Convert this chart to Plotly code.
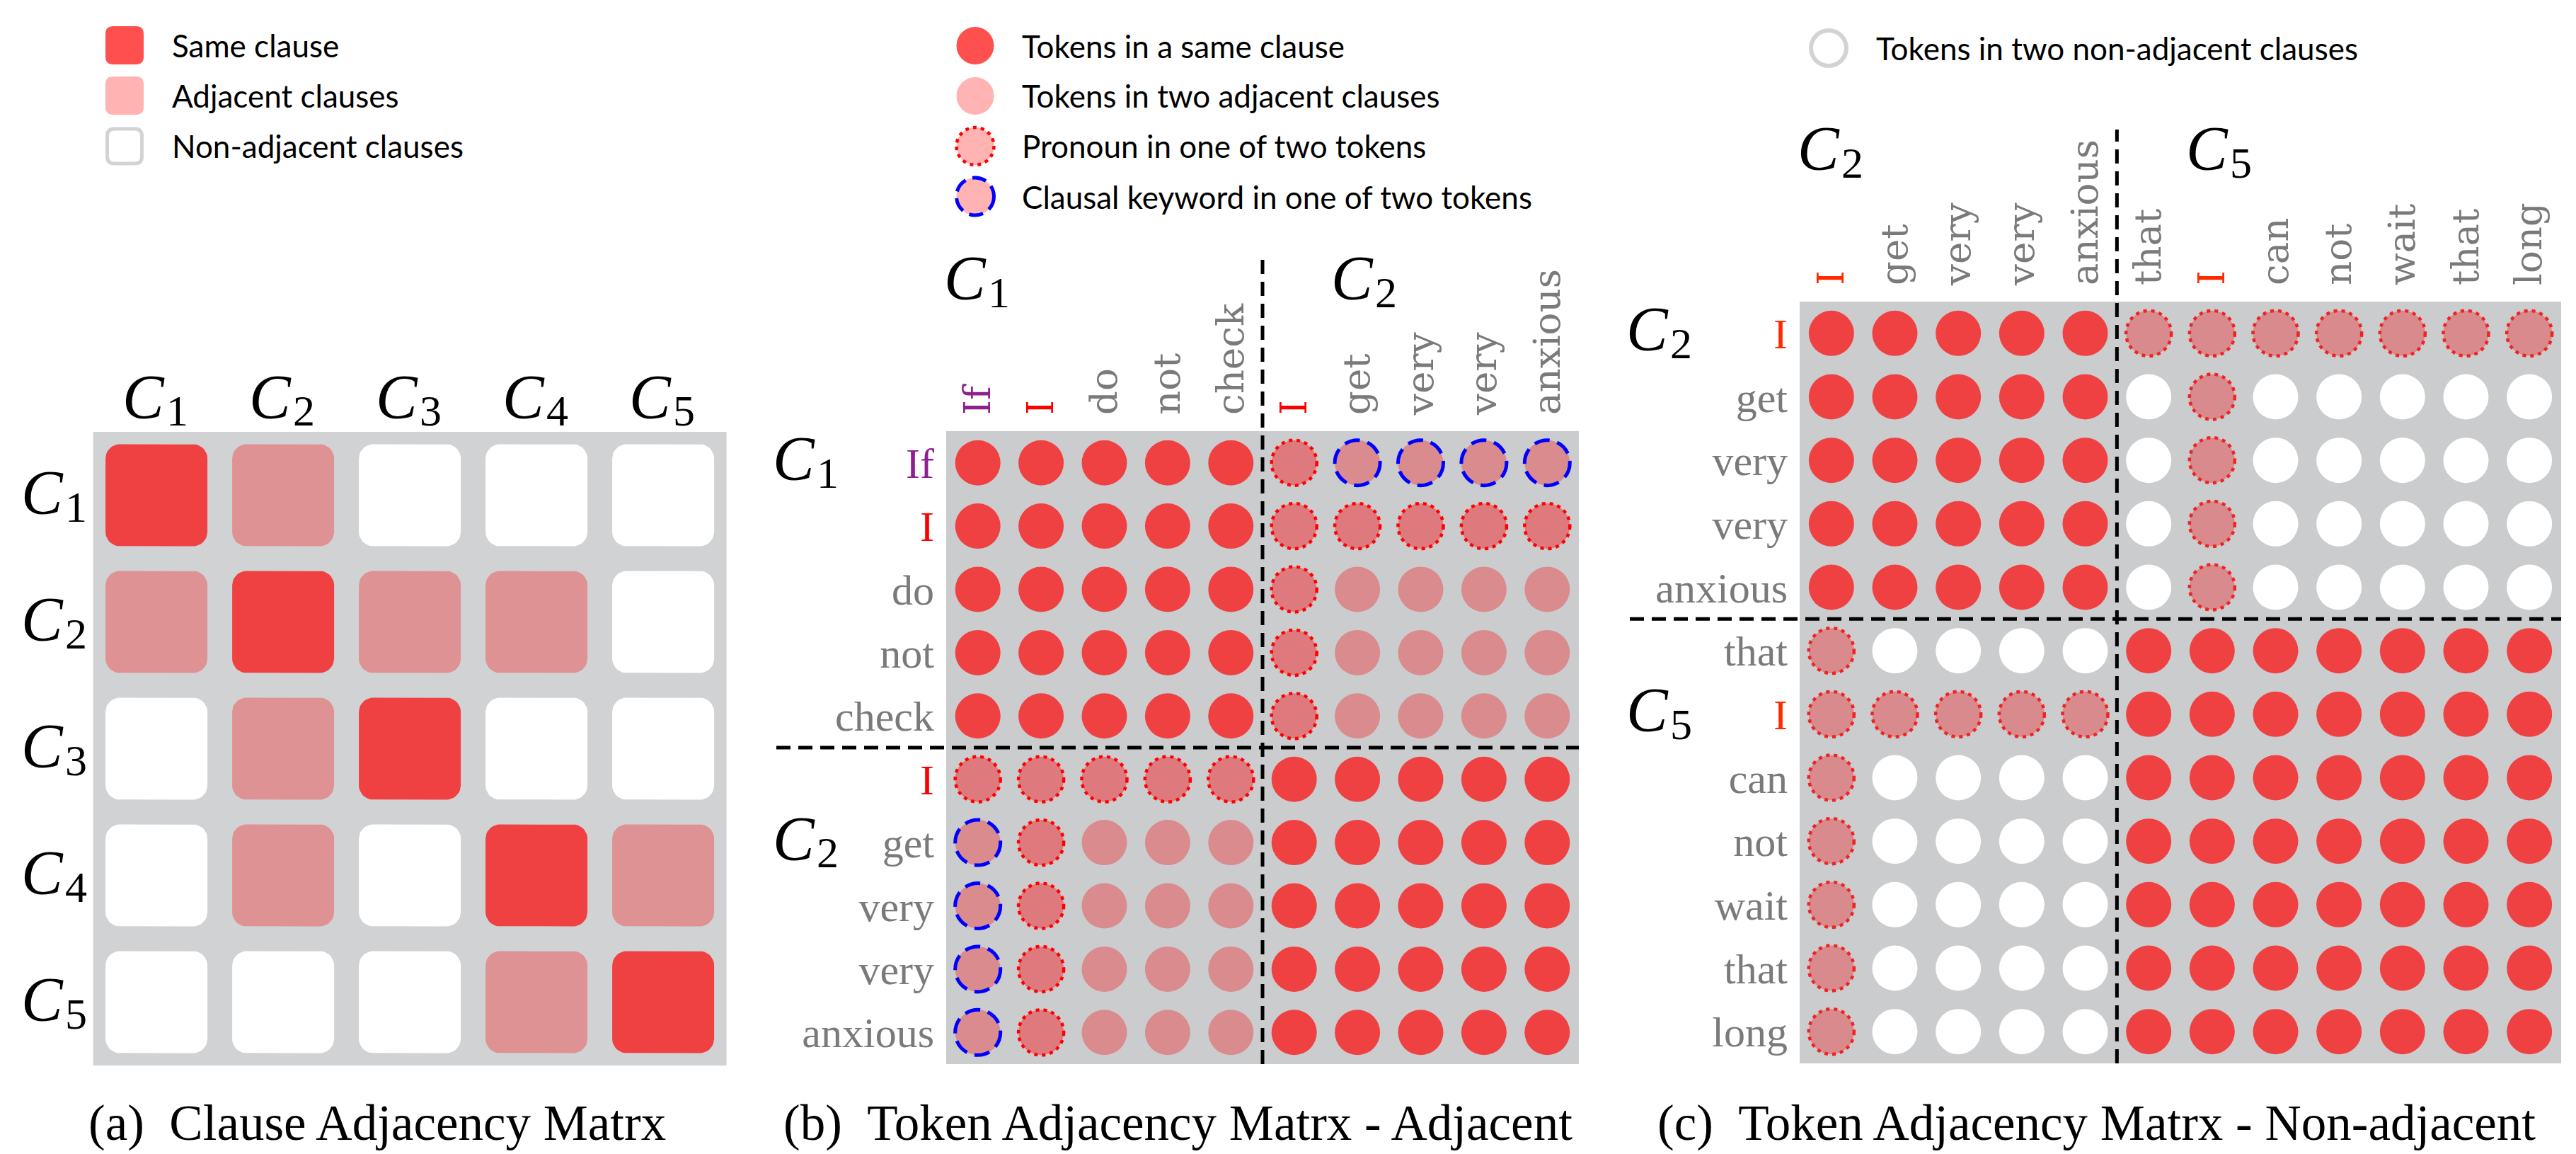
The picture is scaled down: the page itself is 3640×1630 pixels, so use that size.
import numpy as np
import plotly.graph_objects as go

W, H = 3640, 1630

# ---------------- data ----------------
clauses_a = ["C1", "C2", "C3", "C4", "C5"]
# S = same clause, A = adjacent clauses, N = non-adjacent clauses
clause_matrix_a = [
    "SANNN",
    "ASAAN",
    "NASNN",
    "NANSA",
    "NNNAS",
]

tokens_b = ["If", "I", "do", "not", "check", "I", "get", "very", "very", "anxious"]
groups_b = ["C1", "C2"]
# S same, A adjacent, P pronoun in one token, K clausal keyword in one token
token_matrix_b = [
    "SSSSSPKKKK",
    "SSSSSPPPPP",
    "SSSSSPAAAA",
    "SSSSSPAAAA",
    "SSSSSPAAAA",
    "PPPPPSSSSS",
    "KPAAASSSSS",
    "KPAAASSSSS",
    "KPAAASSSSS",
    "KPAAASSSSS",
]

tokens_c = ["I", "get", "very", "very", "anxious", "that", "I", "can", "not", "wait", "that", "long"]
groups_c = ["C2", "C5"]
token_matrix_c = [
    "SSSSSPPPPPPP",
    "SSSSSNPNNNNN",
    "SSSSSNPNNNNN",
    "SSSSSNPNNNNN",
    "SSSSSNPNNNNN",
    "PNNNNSSSSSSS",
    "PPPPPSSSSSSS",
    "PNNNNSSSSSSS",
    "PNNNNSSSSSSS",
    "PNNNNSSSSSSS",
    "PNNNNSSSSSSS",
    "PNNNNSSSSSSS",
]

token_colors = {"If": "#8e1f8e", "I": "#ff0000"}
token_colors_c = {"I": "#ff2a00"}

legend_a = ["Same clause", "Adjacent clauses", "Non-adjacent clauses"]
legend_b = ["Tokens in a same clause", "Tokens in two adjacent clauses",
            "Pronoun in one of two tokens", "Clausal keyword in one of two tokens"]
legend_c = ["Tokens in two non-adjacent clauses"]
captions = ["(a)\u2002Clause Adjacency Matrx",
            "(b)\u2002Token Adjacency Matrx - Adjacent",
            "(c)\u2002Token Adjacency Matrx - Non-adjacent"]

# ---------------- styles ----------------
RED = "#f04142"
GRAY_A = "#d1d2d4"
GRAY_BC = "#cbccce"
TOKEN_GRAY = "#7a7a7a"


def px_x(x):
    return x / W


def px_y(y):
    return 1 - y / H


# panel boxes in pixels (left, top, size)
box_a = (123.6, 602.0, 895.0)
box_b = (1329.0, 601.0, 894.0)
box_c = (2535.0, 418.0, 1076.0)

fig = go.Figure()
shapes = []
annotations = []


def add_math(name, x, y, xref, yref, yshift=0):
    """Clause label C_k centred on (x, y): italic C plus an upright subscript."""
    annotations.append(dict(text=name[0], xref=xref, yref=yref, x=x, y=y, xanchor="right",
                            yanchor="middle", xshift=14, yshift=yshift, showarrow=False,
                            font=dict(family="Liberation Serif", size=88, color="black", style="italic")))
    annotations.append(dict(text=name[1:], xref=xref, yref=yref, x=x, y=y, xanchor="left",
                            yanchor="middle", xshift=12, yshift=yshift - 20, showarrow=False,
                            font=dict(family="Liberation Serif", size=62, color="black")))


def axis_domains(box):
    l, t, s = box
    return [px_x(l), px_x(l + s)], [px_y(t + s), px_y(t)]


# ---------------- panel (a) ----------------
xd, yd = axis_domains(box_a)
pitch_a = box_a[2] / len(clauses_a)
half = 72.0 / pitch_a
rad = 20.0 / pitch_a


def rounded(cx, cy, h, r, n=10):
    xs, ys = [], []
    for ccx, ccy, a0 in [(cx + h - r, cy + h - r, 0), (cx - h + r, cy + h - r, 90),
                         (cx - h + r, cy - h + r, 180), (cx + h - r, cy - h + r, 270)]:
        for t in np.radians(np.linspace(a0, a0 + 90, n)):
            xs.append(ccx + r * np.cos(t))
            ys.append(ccy + r * np.sin(t))
    xs.append(xs[0])
    ys.append(ys[0])
    return xs, ys


cell_colors_a = {"S": RED, "A": "#de9294", "N": "#ffffff"}
for code, col in cell_colors_a.items():
    X, Y = [], []
    for i, row in enumerate(clause_matrix_a):
        for j, c in enumerate(row):
            if c == code:
                xs, ys = rounded(j, i, half, rad)
                X += xs + [None]
                Y += ys + [None]
    fig.add_trace(go.Scatter(x=X, y=Y, mode="lines", fill="toself", fillcolor=col,
                             line=dict(width=0, color=col), hoverinfo="skip",
                             xaxis="x", yaxis="y", showlegend=False))

shapes.append(dict(type="rect", xref="x domain", yref="y domain", x0=0, x1=1, y0=0, y1=1,
                   fillcolor=GRAY_A, line=dict(width=0), layer="below"))

for j, c in enumerate(clauses_a):
    add_math(c, j, px_y(552), "x", "paper")
for i, c in enumerate(clauses_a):
    add_math(c, px_x(70), i, "paper", "y", yshift=4)

layout_axes = {}
layout_axes["xaxis"] = dict(domain=xd, range=[-0.5, 4.5], side="top", anchor="y", showticklabels=False)
layout_axes["yaxis"] = dict(domain=yd, range=[4.5, -0.5], anchor="x", showticklabels=False)


# ---------------- token panels ----------------
def token_panel(idx, box, tokens, groups, matrix, colors, ring_red, tcolors):
    xa, ya = "x%d" % idx, "y%d" % idx
    xd, yd = axis_domains(box)
    n = len(tokens)
    pitch = box[2] / n
    diam = 64.0
    for code, col in colors.items():
        X, Y = [], []
        for i, row in enumerate(matrix):
            for j, c in enumerate(row):
                if c == code:
                    X.append(j)
                    Y.append(i)
        if X:
            fig.add_trace(go.Scatter(x=X, y=Y, mode="markers", xaxis=xa, yaxis=ya,
                                     marker=dict(size=diam, color=col, line=dict(width=0)),
                                     hoverinfo="skip", showlegend=False))
    r = diam / 2 / pitch
    for i, row in enumerate(matrix):
        for j, c in enumerate(row):
            if c in ("P", "K"):
                if c == "P":
                    ln = dict(color=ring_red, width=4.5, dash="5px,6px")
                else:
                    ln = dict(color="#0000ff", width=5, dash="22px,11px")
                shapes.append(dict(type="circle", xref=xa, yref=ya, x0=j - r, x1=j + r,
                                   y0=i - r, y1=i + r, line=ln, layer="above"))
    shapes.append(dict(type="rect", xref=xa + " domain", yref=ya + " domain", x0=0, x1=1, y0=0, y1=1,
                       fillcolor=GRAY_BC, line=dict(width=0), layer="below"))

    def tt(t):
        if t in tcolors:
            return '<span style="color:%s">%s</span>' % (tcolors[t], t)
        return t

    layout_axes["xaxis%d" % idx] = dict(domain=xd, range=[-0.5, n - 0.5], side="top", anchor=ya,
                                        tickvals=list(range(n)), ticktext=[tt(t) for t in tokens],
                                        tickangle=-90, ticklabelstandoff=22,
                                        tickfont=dict(family="DejaVu Serif", size=53, color=TOKEN_GRAY))
    layout_axes["yaxis%d" % idx] = dict(domain=yd, range=[n - 0.5, -0.5], anchor=xa,
                                        tickvals=list(range(n)), ticktext=[tt(t) for t in tokens],
                                        ticklabelstandoff=16,
                                        tickfont=dict(family="Liberation Serif", size=60, color=TOKEN_GRAY))
    # dividers
    b = 5 - 0.5
    dash = dict(color="black", width=5, dash="20px,11px")
    shapes.append(dict(type="line", xref=xa, yref=ya + " domain", x0=b, x1=b, y0=0,
                       y1=1 + 243.0 / box[2], line=dash))
    shapes.append(dict(type="line", xref=xa + " domain", yref=ya, x0=-240.0 / box[2], x1=1,
                       y0=b, y1=b, line=dash))
    # group labels
    top_y = px_y(box[1] - 216)
    add_math(groups[0], 0, top_y, xa, "paper")
    add_math(groups[1], b + 1.62, top_y, xa, "paper")
    left_x = px_x(box[0] - 197)
    add_math(groups[0], left_x, 0, "paper", ya, yshift=6)
    add_math(groups[1], left_x, 6, "paper", ya, yshift=6)


token_panel(2, box_b, tokens_b, groups_b, token_matrix_b,
            {"S": RED, "A": "#d98b8e", "P": "#de7a7d", "K": "#d98b8e"}, "#ff0000", token_colors)
token_panel(3, box_c, tokens_c, groups_c, token_matrix_c,
            {"S": RED, "N": "#ffffff", "P": "#d88a8c"}, "#f02222", token_colors_c)

# ---------------- legends ----------------
LEG_FONT = dict(family="Lato", size=44, color="black")


def rounded_path(cx, cy, s, r):
    x0, x1 = cx - s / 2, cx + s / 2
    y0, y1 = cy - s / 2, cy + s / 2
    pts = [("M", x0 + r, y0), ("L", x1 - r, y0), ("Q", x1, y0, x1, y0 + r), ("L", x1, y1 - r),
           ("Q", x1, y1, x1 - r, y1), ("L", x0 + r, y1), ("Q", x0, y1, x0, y1 - r),
           ("L", x0, y0 + r), ("Q", x0, y0, x0 + r, y0)]
    out = []
    for p in pts:
        cmd = p[0]
        coords = p[1:]
        s_ = " ".join("%.6f,%.6f" % (px_x(coords[k]), px_y(coords[k + 1])) for k in range(0, len(coords), 2))
        out.append(cmd + s_)
    return " ".join(out) + " Z"


leg_a_y = [56, 127, 198.5]
leg_a_style = [("#ff4f4f", None), ("#ffb3b3", None), ("#ffffff", "#d3d3d3")]
for lab, cy, (fc, lc) in zip(legend_a, leg_a_y, leg_a_style):
    if lc:
        shapes.append(dict(type="path", xref="paper", yref="paper", path=rounded_path(168, cy, 49, 10),
                           fillcolor=fc, line=dict(color=lc, width=5)))
    else:
        shapes.append(dict(type="path", xref="paper", yref="paper", path=rounded_path(168, cy, 54, 11),
                           fillcolor=fc, line=dict(width=0)))
    annotations.append(dict(text=lab, xref="paper", yref="paper", x=px_x(233), y=px_y(cy),
                            xanchor="left", yanchor="middle", showarrow=False, font=LEG_FONT))


def circle_px(cx, cy, r, fill, line):
    return dict(type="circle", xref="paper", yref="paper", x0=px_x(cx - r), x1=px_x(cx + r),
                y0=px_y(cy + r), y1=px_y(cy - r), fillcolor=fill, line=line)


leg_b_y = [56.6, 127.5, 198.5, 269.5]
leg_b_style = [("#ff5050", dict(width=0)), ("#ffb3b3", dict(width=0)),
               ("#ffb3b3", dict(color="#ff0000", width=4.5, dash="5px,6px")),
               ("#ffb3b3", dict(color="#0000ff", width=5, dash="20px,10px"))]
for lab, cy, (fc, ln) in zip(legend_b, leg_b_y, leg_b_style):
    shapes.append(circle_px(1370, cy, 26.5, fc, ln))
    annotations.append(dict(text=lab, xref="paper", yref="paper", x=px_x(1433.6), y=px_y(cy),
                            xanchor="left", yanchor="middle", showarrow=False, font=LEG_FONT))

shapes.append(circle_px(2576, 60, 25, "#ffffff", dict(color="#d3d3d3", width=6)))
annotations.append(dict(text=legend_c[0], xref="paper", yref="paper", x=px_x(2641), y=px_y(60),
                        xanchor="left", yanchor="middle", showarrow=False, font=LEG_FONT))

# ---------------- captions ----------------
for cap, cx in zip(captions, [525, 1656, 2954]):
    annotations.append(dict(text=cap, xref="paper", yref="paper", x=px_x(cx), y=px_y(1578),
                            xanchor="center", yanchor="middle", showarrow=False,
                            font=dict(family="Liberation Serif", size=71, color="black")))

common = dict(showgrid=False, zeroline=False, showline=False, ticks="", fixedrange=True)
for k, v in layout_axes.items():
    v.update(common)

fig.update_layout(width=W, height=H, autosize=False, margin=dict(l=0, r=0, t=0, b=0),
                  paper_bgcolor="white", plot_bgcolor="white", showlegend=False,
                  shapes=shapes, annotations=annotations, **layout_axes)

fig.write_html("out.html")
